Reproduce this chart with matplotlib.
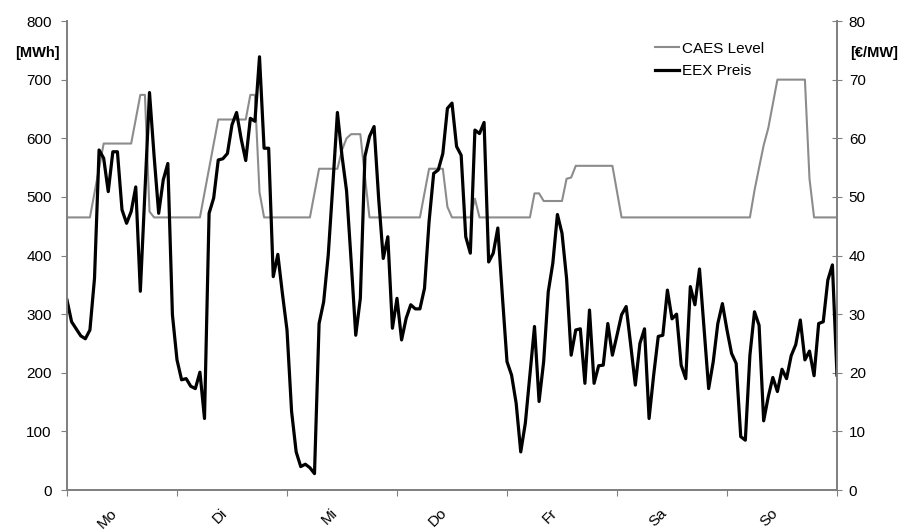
import matplotlib
matplotlib.use('Agg')
import matplotlib.pyplot as plt

plt.rcParams['font.family'] = ['Liberation Sans', 'DejaVu Sans']

# Wochentage, je 24 Stunden
tage = ['Mo', 'Di', 'Mi', 'Do', 'Fr', 'Sa', 'So']

# Speicherfüllstand [MWh], stündlich, Mo 0 Uhr bis So 24 Uhr
caes_level = [
    465, 465, 465, 465, 465, 465, 507, 549, 591, 591, 591, 591, 591, 591, 591, 632, 674, 674, 475, 465, 465, 465, 465, 465,
    465, 465, 465, 465, 465, 465, 507, 548, 590, 632, 632, 632, 632, 632, 632, 632, 674, 674, 508, 465, 465, 465, 465, 465,
    465, 465, 465, 465, 465, 465, 506, 548, 548, 548, 548, 548, 580, 600, 607, 607, 607, 535, 465, 465, 465, 465, 465, 465,
    465, 465, 465, 465, 465, 465, 506, 548, 548, 548, 548, 483, 465, 465, 465, 465, 465, 497, 465, 465, 465, 465, 465, 465,
    465, 465, 465, 465, 465, 465, 506, 506, 493, 493, 493, 493, 493, 531, 533, 553, 553, 553, 553, 553, 553, 553, 553, 553,
    509, 465, 465, 465, 465, 465, 465, 465, 465, 465, 465, 465, 465, 465, 465, 465, 465, 465, 465, 465, 465, 465, 465, 465,
    465, 465, 465, 465, 465, 465, 511, 550, 588, 617, 658, 700, 700, 700, 700, 700, 700, 700, 531, 465, 465, 465, 465, 465,
    465,
]

# Strompreis an der EEX [€/MW]
eex_preis = [
    32.4, 28.7, 27.5, 26.3, 25.8, 27.3, 36.1, 58.0, 56.6, 50.9, 57.7, 57.7,
    47.8, 45.5, 47.5, 51.7, 33.9, 51.0, 67.8, 57.0, 47.2, 52.9, 55.7, 29.9,
    22.2, 18.8, 19.0, 17.7, 17.3, 20.1, 12.2, 47.2, 49.8, 56.3, 56.5, 57.4,
    62.3, 64.4, 59.9, 56.2, 63.4, 62.9, 73.9, 58.3, 58.3, 36.4, 40.2, 33.5,
    27.3, 13.4, 6.5, 4.0, 4.4, 3.8, 2.8, 28.4, 32.1, 40.1, 52.0, 64.4,
    57.0, 51.0, 39.0, 26.4, 32.7, 56.9, 60.3, 62.0, 49.7, 39.5, 43.2, 27.6,
    32.7, 25.6, 29.3, 31.6, 30.9, 30.9, 34.4, 45.8, 54.0, 54.6, 57.4, 65.1,
    66.0, 58.6, 57.1, 43.2, 40.4, 61.4, 60.8, 62.7, 38.9, 40.4, 44.7, 33.0,
    21.9, 19.6, 14.8, 6.5, 11.4, 19.6, 27.9, 15.1, 21.9, 33.8, 38.7, 47.0,
    43.8, 36.1, 23.0, 27.3, 27.5, 18.2, 30.7, 18.2, 21.2, 21.3, 28.4, 23.0,
    26.4, 29.9, 31.3, 24.7, 17.9, 25.0, 27.5, 12.2, 19.6, 26.2, 26.4, 34.1,
    29.2, 30.0, 21.3, 19.0, 34.7, 31.6, 37.7, 27.6, 17.3, 21.9, 28.4, 31.8,
    27.3, 23.3, 21.6, 9.1, 8.5, 23.0, 30.4, 28.1, 11.8, 15.9, 19.2, 16.8,
    20.6, 19.0, 22.9, 24.8, 29.0, 22.2, 23.7, 19.5, 28.4, 28.7, 35.8, 38.4,
    19.6,
]


def main():
    grau = '#808080'
    stunden = list(range(len(eex_preis)))

    fig = plt.figure(figsize=(9.03, 5.32), dpi=100)
    ax = fig.add_axes([0.0742, 0.0789, 0.8527, 0.8816])
    ax2 = ax.twinx()

    l1, = ax.plot(stunden, caes_level, color='#8c8c8c', lw=1.5, label='CAES Level')
    l2, = ax2.plot(stunden, eex_preis, color='black', lw=2.3, label='EEX Preis')

    ax.set_xlim(0, 168)
    ax.set_ylim(0, 800)
    ax2.set_ylim(0, 80)
    ax.set_yticks(range(0, 801, 100))
    ax2.set_yticks(range(0, 81, 10))

    # Tagesgrenzen als Striche, Tagesnamen in der Mitte (etwas nach links versetzt)
    ax.set_xticks(range(0, 169, 24))
    ax.set_xticklabels([])
    ax.set_xticks([10.5 + 24 * i for i in range(7)], minor=True)
    ax.set_xticklabels(tage, minor=True, rotation=45, ha='right', va='center',
                       rotation_mode='anchor', fontsize=11)
    ax.tick_params(axis='x', which='minor', length=0, pad=15)
    ax.tick_params(axis='x', which='major', length=4, color=grau, direction='out')
    ax.tick_params(axis='y', length=4, color=grau, direction='out', labelsize=11, pad=7)
    ax2.tick_params(axis='y', length=7, color=grau, direction='inout', labelsize=11, pad=5)

    for a in (ax, ax2):
        a.spines['top'].set_visible(False)
        for s in ('left', 'right', 'bottom'):
            a.spines[s].set_color(grau)
            a.spines[s].set_linewidth(1.3)

    fig.text(0.042, 0.900, '[MWh]', fontsize=10.5, fontweight='bold', ha='center', va='center')
    fig.text(0.968, 0.900, '[€/MW]', fontsize=10.5, fontweight='bold', ha='center', va='center')

    ax2.legend(handles=[l1, l2], loc='upper left', bbox_to_anchor=(0.713, 0.942),
               bbox_transform=fig.transFigure, frameon=False, fontsize=11,
               handlelength=1.6, handletextpad=0.2, labelspacing=0.55, borderpad=0.2)

    fig.savefig('out.png', dpi=100)


main()
